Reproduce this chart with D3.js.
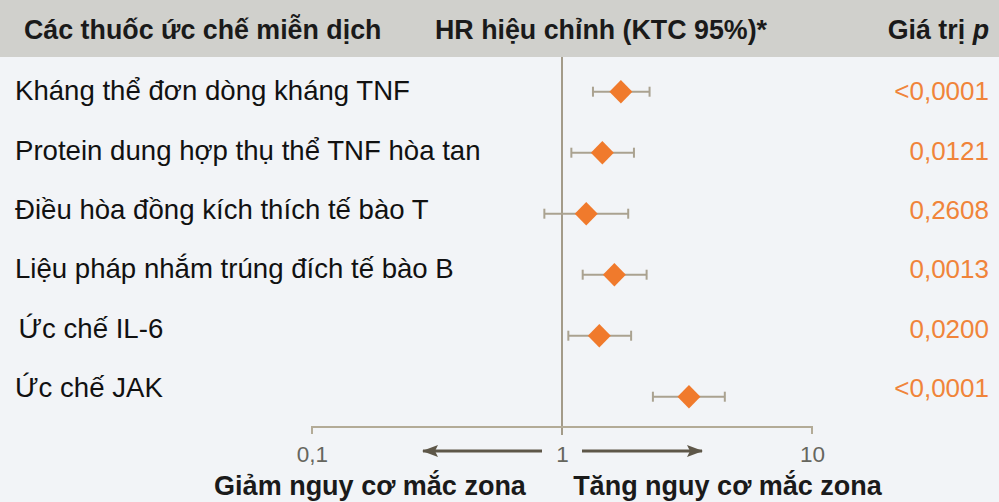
<!DOCTYPE html>
<html><head><meta charset="utf-8">
<script src="https://cdn.jsdelivr.net/npm/d3@7"></script>
<style>html,body{margin:0;padding:0;background:#f2f4f7;}svg{display:block;}</style>
</head><body>
<script>
const categories = ["Kháng thể đơn dòng kháng TNF","Protein dung hợp thụ thể TNF hòa tan","Điều hòa đồng kích thích tế bào T","Liệu pháp nhắm trúng đích tế bào B","Ức chế IL-6","Ức chế JAK"];
const hr = [1.72, 1.45, 1.25, 1.62, 1.41, 3.22];
const lower = [1.33, 1.09, 0.85, 1.21, 1.06, 2.31];
const upper = [2.24, 1.94, 1.84, 2.18, 1.89, 4.48];
const pValues = ["<0,0001","0,0121","0,2608","0,0013","0,0200","<0,0001"];
const tickValues = [0.1, 1, 10];
const tickLabels = ["0,1","1","10"];
const headers = ["Các thuốc ức chế miễn dịch","HR hiệu chỉnh (KTC 95%)*","Giá trị "];
const bottomLabels = ["Giảm nguy cơ mắc zona","Tăng nguy cơ mắc zona"];

const W = 999, H = 502;
const svg = d3.select("body").append("svg").attr("width", W).attr("height", H);
svg.append("rect").attr("width", W).attr("height", H).attr("fill", "#f2f4f7");
svg.append("rect").attr("width", W).attr("height", 57).attr("fill", "#d0d0cc");

const x = d3.scaleLog().domain([0.1, 10]).range([312, 812]);
const y = d3.scaleBand().domain(d3.range(categories.length)).range([61.2, 427.2]);
const cy = i => y(i) + y.bandwidth()/2;
const yText = d3.scalePoint().domain(d3.range(categories.length)).range([100.3, 397]);

const f = "'Liberation Sans',Arial,Helvetica,sans-serif";

// headers
const hdr = (t, xx, anchor) => svg.append("text").attr("x", xx).attr("y", 38.5).attr("text-anchor", anchor)
  .attr("font-family", f).attr("font-weight", "bold").attr("font-size", 26.8).attr("fill", "#1a1a1a").text(t);
hdr(headers[0], 24, "start");
hdr(headers[1], 435, "start");
const gp = hdr(headers[2], 989, "end");
gp.append("tspan").attr("font-style", "italic").text("p");

// vertical reference line
svg.append("line").attr("x1", x(1)).attr("x2", x(1)).attr("y1", 57).attr("y2", 435).attr("stroke", "#a39b89").attr("stroke-width", 2);

// axis
const axis = d3.axisBottom(x).tickValues(tickValues).tickFormat((d, i) => tickLabels[i]).tickSize(0).tickPadding(19);
const ag = svg.append("g").attr("transform", "translate(0,427)").call(axis);
ag.select(".domain").attr("stroke", "#b3ab97").attr("stroke-width", 2).attr("d", `M${x(0.1)},7V0H${x(10)}V7`);
ag.selectAll(".tick text").attr("font-family", f).attr("font-size", 22.5).attr("fill", "#66665e");

// arrows
const defs = svg.append("defs");
defs.append("marker").attr("id", "ah").attr("viewBox", "0 0 16 12").attr("refX", 15).attr("refY", 6)
  .attr("markerUnits", "userSpaceOnUse").attr("markerWidth", 16).attr("markerHeight", 12).attr("orient", "auto")
  .append("path").attr("d", "M0,0L16,6L0,12L3,6z").attr("fill", "#5e5749");
svg.append("line").attr("x1", 542).attr("x2", 423).attr("y1", 451).attr("y2", 451).attr("stroke", "#5e5749").attr("stroke-width", 3).attr("marker-end", "url(#ah)");
svg.append("line").attr("x1", 582).attr("x2", 702).attr("y1", 451).attr("y2", 451).attr("stroke", "#5e5749").attr("stroke-width", 3).attr("marker-end", "url(#ah)");

// bottom labels
svg.append("text").attr("x", 370).attr("y", 495).attr("text-anchor", "middle").attr("font-family", f).attr("font-weight", "bold").attr("font-size", 27).attr("fill", "#1a1a1a").text(bottomLabels[0]);
svg.append("text").attr("x", 727.5).attr("y", 495).attr("text-anchor", "middle").attr("font-family", f).attr("font-weight", "bold").attr("font-size", 27).attr("fill", "#1a1a1a").text(bottomLabels[1]);

// rows
const rows = svg.append("g").selectAll("g").data(categories).join("g");
rows.append("text").attr("x", (d, i) => i === 4 ? 18.5 : 15).attr("y", (d, i) => yText(i))
  .attr("font-family", f).attr("font-size", 27.6).attr("fill", "#111").text(d => d);
const ci = "#aaa290";
rows.append("line").attr("x1", (d, i) => x(lower[i])).attr("x2", (d, i) => x(upper[i]))
  .attr("y1", (d, i) => cy(i)).attr("y2", (d, i) => cy(i)).attr("stroke", ci).attr("stroke-width", 2);
rows.append("line").attr("x1", (d, i) => x(lower[i])).attr("x2", (d, i) => x(lower[i]))
  .attr("y1", (d, i) => cy(i) - 5).attr("y2", (d, i) => cy(i) + 5).attr("stroke", ci).attr("stroke-width", 2);
rows.append("line").attr("x1", (d, i) => x(upper[i])).attr("x2", (d, i) => x(upper[i]))
  .attr("y1", (d, i) => cy(i) - 5).attr("y2", (d, i) => cy(i) + 5).attr("stroke", ci).attr("stroke-width", 2);
rows.append("path").attr("transform", (d, i) => `translate(${x(hr[i])},${cy(i)})`)
  .attr("d", "M0,-11.7L11.5,0L0,11.7L-11.5,0Z").attr("fill", "#f07a2c");
rows.append("text").attr("x", 989).attr("y", (d, i) => yText(i)).attr("text-anchor", "end")
  .attr("font-family", f).attr("font-size", 26).attr("fill", "#f0843a").text((d, i) => pValues[i]);
</script>
</body></html>
